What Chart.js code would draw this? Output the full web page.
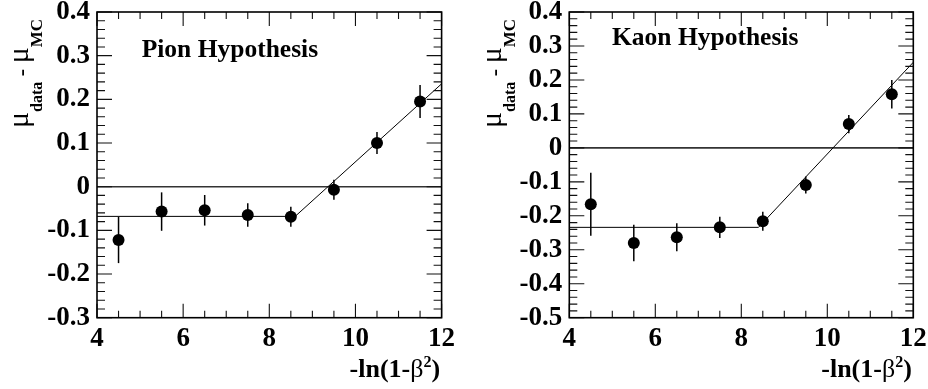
<!DOCTYPE html>
<html>
<head>
<meta charset="utf-8">
<script src="https://cdn.jsdelivr.net/npm/chart.js@4.4.1/dist/chart.umd.min.js"></script>
<style>
    html, body { margin: 0; padding: 0; background: #fff; }
    .panel { position: absolute; top: 0; width: 464px; height: 389px; }
    #pionBox { left: 0; }
    #kaonBox { left: 464px; }
</style>
</head>
<body>
<div class="panel" id="pionBox"><canvas id="pionChart"></canvas></div>
<div class="panel" id="kaonBox"><canvas id="kaonChart"></canvas></div>
<script>
/****************************** Data ********************************/
const xBins = [4.5, 5.5, 6.5, 7.5, 8.5, 9.5, 10.5, 11.5];

const pionMu = [-0.122, -0.057, -0.054, -0.065, -0.069, -0.007, 0.100, 0.195];
const pionErr = [0.053, 0.044, 0.035, 0.027, 0.023, 0.023, 0.025, 0.038];
const pionFitX = [4, 8.6, 12];
const pionFitY = [-0.068, -0.068, 0.2355];

const kaonMu = [-0.166, -0.280, -0.263, -0.234, -0.216, -0.109, 0.070, 0.158];
const kaonErr = [0.093, 0.054, 0.041, 0.031, 0.028, 0.025, 0.027, 0.042];
const kaonFitX = [4, 8.4, 12];
const kaonFitY = [-0.234, -0.234, 0.252];

const xTicks = [4, 6, 8, 10, 12];
const pionYTicks = [-0.3, -0.2, -0.1, 0, 0.1, 0.2, 0.3, 0.4];
const kaonYTicks = [-0.5, -0.4, -0.3, -0.2, -0.1, 0, 0.1, 0.2, 0.3, 0.4];

const FONT = '"Liberation Serif", "Times New Roman", serif';

/****************************** Helpers ********************************/
// rotated y title: mu_data - mu_MC
function drawYTitle(ctx, x, y) {
    const parts = [
        { t: 'μ', f: '30px ' + FONT, dy: 0 },
        { t: 'data', f: 'bold 16px ' + FONT, dy: 14 },
        { t: ' - ', f: 'bold 22px ' + FONT, dy: 0 },
        { t: 'μ', f: '30px ' + FONT, dy: 0 },
        { t: 'MC', f: 'bold 17px ' + FONT, dy: 14 }
    ];
    ctx.save();
    ctx.translate(x, y);
    ctx.rotate(-Math.PI / 2);
    ctx.fillStyle = '#000';
    ctx.textAlign = 'left';
    ctx.textBaseline = 'alphabetic';
    let cx = 0;
    parts.forEach(p => {
        ctx.font = p.f;
        ctx.fillText(p.t, cx, p.dy);
        cx += ctx.measureText(p.t).width;
    });
    ctx.restore();
}

// x title: -ln(1-beta^2), right aligned
function drawXTitle(ctx, right, y) {
    const parts = [
        { t: '-ln(1-', f: 'bold 26px ' + FONT, dy: 0 },
        { t: 'β', f: '26px ' + FONT, dy: 0 },
        { t: '2', f: 'bold 16px ' + FONT, dy: -10 },
        { t: ')', f: 'bold 26px ' + FONT, dy: 0 }
    ];
    ctx.save();
    ctx.fillStyle = '#000';
    ctx.textAlign = 'left';
    ctx.textBaseline = 'alphabetic';
    let w = 0;
    parts.forEach(p => { ctx.font = p.f; w += ctx.measureText(p.t).width; });
    let cx = right - w;
    parts.forEach(p => {
        ctx.font = p.f;
        ctx.fillText(p.t, cx, y + p.dy);
        cx += ctx.measureText(p.t).width;
    });
    ctx.restore();
}

function makePanel(canvasId, mu, err, fitX, fitY, yTicks, cfg) {

    const decor = {
        id: 'decor_' + canvasId,
        beforeDatasetsDraw(chart) {
            // vertical error bars, no caps
            const ctx = chart.ctx, xs = chart.scales.x, ys = chart.scales.y;
            ctx.save();
            ctx.strokeStyle = '#000';
            ctx.lineWidth = 1.5;
            xBins.forEach((x, i) => {
                const px = xs.getPixelForValue(x);
                ctx.beginPath();
                ctx.moveTo(px, ys.getPixelForValue(mu[i] - err[i]));
                ctx.lineTo(px, ys.getPixelForValue(mu[i] + err[i]));
                ctx.stroke();
            });
            ctx.restore();
        },
        afterDatasetsDraw(chart) {
            const ctx = chart.ctx, xs = chart.scales.x, ys = chart.scales.y;
            const a = chart.chartArea;
            ctx.save();

            // inward ticks on all four sides
            ctx.strokeStyle = '#111';
            ctx.lineWidth = 1.1;
            ctx.beginPath();
            const yMin = yTicks[0], nY = Math.round((yTicks[yTicks.length - 1] - yMin) / 0.02);
            for (let i = 0; i <= nY; i++) {
                const py = ys.getPixelForValue(yMin + i * 0.02);
                const len = (i % 5 === 0) ? 15 : 8;
                ctx.moveTo(a.left, py); ctx.lineTo(a.left + len, py);
                ctx.moveTo(a.right, py); ctx.lineTo(a.right - len, py);
            }
            const nX = Math.round((xTicks[xTicks.length - 1] - xTicks[0]) / 0.5);
            for (let i = 0; i <= nX; i++) {
                const px = xs.getPixelForValue(xTicks[0] + i * 0.5);
                const len = (i % 4 === 0) ? 14 : 7;
                ctx.moveTo(px, a.bottom); ctx.lineTo(px, a.bottom - len);
                ctx.moveTo(px, a.top); ctx.lineTo(px, a.top + len);
            }
            ctx.stroke();

            // frame
            ctx.strokeStyle = '#000';
            ctx.lineWidth = 1.6;
            ctx.strokeRect(a.left, a.top, a.right - a.left, a.bottom - a.top);
            ctx.restore();

            // texts
            ctx.save();
            ctx.fillStyle = '#000';
            ctx.font = 'bold 25.5px ' + FONT;
            ctx.textBaseline = 'alphabetic';
            ctx.fillText(cfg.label, cfg.labelX, cfg.labelY);
            ctx.restore();
            drawYTitle(ctx, cfg.yTitleX, cfg.yTitleY);
            drawXTitle(ctx, a.right - 1.5, 377);
        }
    };

    return new Chart(document.getElementById(canvasId), {
        type: 'scatter',
        data: {
            datasets: [
                {
                    label: 'data',
                    data: xBins.map((x, i) => ({ x: x, y: mu[i] })),
                    backgroundColor: '#000',
                    borderWidth: 0,
                    pointRadius: 6
                },
                {
                    label: 'fit',
                    data: fitX.map((x, i) => ({ x: x, y: fitY[i] })),
                    showLine: true,
                    borderColor: '#000',
                    borderWidth: 1,
                    pointRadius: 0
                },
                {
                    label: 'zero',
                    data: [{ x: xTicks[0], y: 0 }, { x: xTicks[xTicks.length - 1], y: 0 }],
                    showLine: true,
                    borderColor: '#333',
                    borderWidth: 1.6,
                    pointRadius: 0
                }
            ]
        },
        options: {
            responsive: true,
            maintainAspectRatio: false,
            animation: false,
            events: [],
            layout: { padding: { top: 12, right: cfg.padRight, left: 0, bottom: 0 } },
            plugins: {
                legend: { display: false },
                tooltip: { enabled: false }
            },
            scales: {
                x: {
                    type: 'linear',
                    min: xTicks[0],
                    max: xTicks[xTicks.length - 1],
                    grid: { display: false, drawTicks: false },
                    border: { display: false },
                    afterBuildTicks: s => { s.ticks = xTicks.map(v => ({ value: v })); },
                    afterFit: s => { s.height = 71.3; s.paddingLeft = 0; s.paddingRight = 0; },
                    ticks: {
                        color: '#000',
                        font: { family: FONT, size: 27, weight: 'bold' },
                        padding: 5,
                        maxRotation: 0,
                        autoSkip: false,
                        callback: v => String(v)
                    }
                },
                y: {
                    min: yTicks[0],
                    max: yTicks[yTicks.length - 1],
                    grid: { display: false, drawTicks: false },
                    border: { display: false },
                    afterBuildTicks: s => { s.ticks = yTicks.map(v => ({ value: v })); },
                    afterFit: s => { s.width = cfg.left; s.paddingTop = 0; s.paddingBottom = 0; },
                    ticks: {
                        color: '#000',
                        font: { family: FONT, size: 27, weight: 'bold' },
                        padding: 7,
                        autoSkip: false,
                        callback: v => (Math.abs(v) < 1e-9 ? '0' : v.toFixed(1))
                    }
                }
            }
        },
        plugins: [decor]
    });
}

/****************************** Pion panel ********************************/
makePanel('pionChart', pionMu, pionErr, pionFitX, pionFitY, pionYTicks, {
    left: 97, padRight: 22.4,
    label: 'Pion Hypothesis', labelX: 141.7, labelY: 56.7,
    yTitleX: 28, yTitleY: 128
});

/****************************** Kaon panel ********************************/
makePanel('kaonChart', kaonMu, kaonErr, kaonFitX, kaonFitY, kaonYTicks, {
    left: 105.3, padRight: 14.7,
    label: 'Kaon Hypothesis', labelX: 148, labelY: 45,
    yTitleX: 36.5, yTitleY: 128
});
</script>
</body>
</html>
